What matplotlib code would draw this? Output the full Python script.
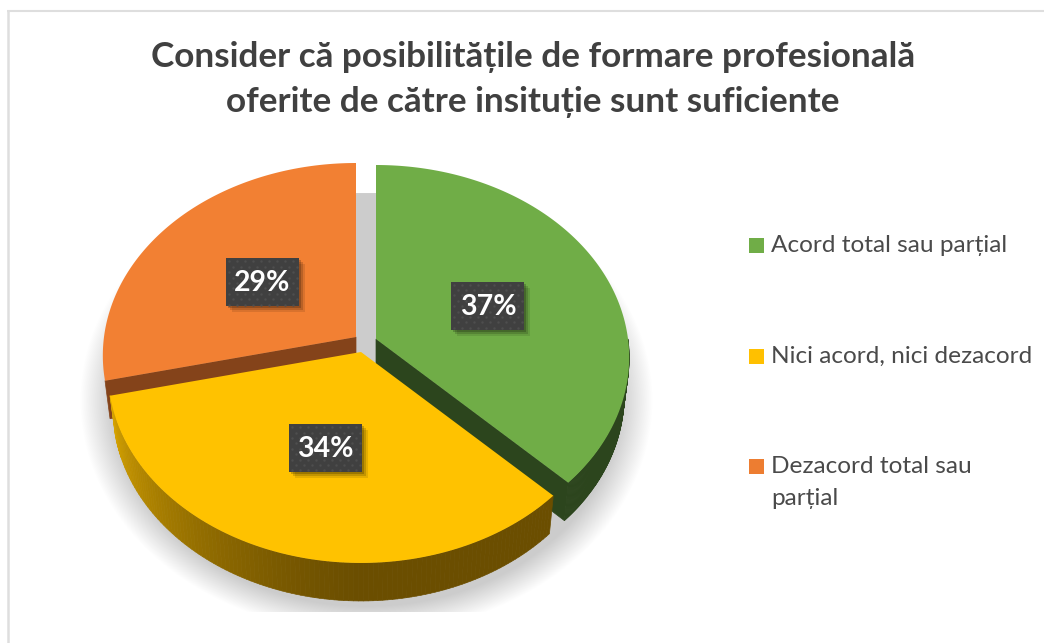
import numpy as np
import matplotlib
matplotlib.use('Agg')
import matplotlib.pyplot as plt
from matplotlib.collections import PolyCollection
from matplotlib.patches import Rectangle

plt.rcParams['font.family'] = ['Lato', 'Noto Sans', 'DejaVu Sans']

# date
categories = ['Acord total sau parțial', 'Nici acord, nici dezacord', 'Dezacord total sau\nparțial']
values = [37.4, 34.0, 28.6]
colors = ['#70AD47', '#FFC000', '#ED7D31']
top_colors = ['#70AD47', '#FFC200', '#F28033']
title = 'Consider că posibilitățile de formare profesională\noferite de către insituție sunt suficiente'

W, H = 1044, 643
RX, RY, PERSP = 252, 190.7, 0.096
DEPTH = 38

# unghiuri din valori (de la ora 12, in sensul acelor de ceas)
edges = np.concatenate([[0], np.cumsum(values)]) / np.sum(values) * 2 * np.pi
# varful fiecarei felii (explodate) in pixeli
apex = [(376, 339), (361, 352), (356, 337)]


def project(center, ang, r=1.0, depth=0):
    # perspectiva simpla pentru discul placintei
    x, y = r * np.sin(ang), r * np.cos(ang)
    s = 1 / (1 + PERSP * y)
    k = 1 - 0.02 * depth / DEPTH
    return center[0] + RX * k * x * s, center[1] + depth - RY * y * s


def sector(center, a0, a1, depth=0):
    t = np.linspace(a0, a1, 200)
    xs, ys = project(center, t, depth=depth)
    return np.column_stack([np.r_[center[0], xs], np.r_[center[1] + depth, ys]])


def wall_strips(center, a0, a1, n=120):
    t = np.linspace(a0, a1, n + 1)
    xt, yt = project(center, t)
    xb, yb = project(center, t, depth=DEPTH)
    return [[(xt[i], yt[i]), (xt[i + 1], yt[i + 1]), (xb[i + 1], yb[i + 1]), (xb[i], yb[i])] for i in range(n)], t


def radial_wall(center, ang):
    xt, yt = project(center, ang)
    xb, yb = project(center, ang, depth=DEPTH)
    return [(center[0], center[1]), (xt, yt), (xb, yb), (center[0], center[1] + DEPTH)]


fig = plt.figure(figsize=(W / 100, H / 100), dpi=100, facecolor='white')
ax = fig.add_axes([0, 0, 1, 1])
ax.set_xlim(0, W)
ax.set_ylim(H, 0)
ax.axis('off')

# chenar (doar sus si in stanga, restul e taiat)
ax.plot([7.5, 7.5], [10, H], color='#DEDEDE', lw=1.8, solid_capstyle='butt')
ax.plot([7, W], [10.5, 10.5], color='#DEDEDE', lw=1.5, solid_capstyle='butt')

# umbra de sub placinta
yy, xx = np.mgrid[193:612, 70:670]
d = np.sqrt(((xx - 366) / 278) ** 2 + ((yy - 400) / 226) ** 2)
alpha = np.clip((1.03 - d) / 0.12, 0, 1)
shadow = np.zeros(d.shape + (4,))
shadow[..., :3] = 0.8
shadow[..., 3] = alpha
ax.imshow(shadow, extent=(70, 670, 612, 193), zorder=1, interpolation='bilinear', aspect='auto')
ax.set_xlim(0, W)
ax.set_ylim(H, 0)

# felia verde
green_wall, _ = wall_strips(apex[0], np.pi / 2, edges[1])
ax.add_collection(PolyCollection(green_wall, facecolors='#2C451D', edgecolors='#2C451D', lw=0.5, zorder=2))
ax.fill(*zip(*radial_wall(apex[0], edges[1])), color='#2C451D', lw=0.5, zorder=2)
ax.fill(*sector(apex[0], edges[0], edges[1]).T, color=top_colors[0], lw=0, zorder=3)

# felia portocalie
ax.fill(*zip(*radial_wall(apex[2], edges[2])), color='#84431A', lw=0.5, zorder=2)
ax.fill(*sector(apex[2], edges[2], edges[3]).T, color=top_colors[2], lw=0, zorder=3)

# felia galbena, perete cu degrade
yellow_wall, t = wall_strips(apex[1], edges[1], edges[2])
frac = np.clip((t[:-1] - np.pi) / (edges[2] - np.pi), 0, 1)
dark, light = np.array([0x6B, 0x4E, 0x00]) / 255, np.array([0xD8, 0xA4, 0x00]) / 255
cols = [dark + (light - dark) * f ** 1.3 for f in frac]
ax.add_collection(PolyCollection(yellow_wall, facecolors=cols, edgecolors=cols, lw=0.5, zorder=4))
ax.fill(*sector(apex[1], edges[1], edges[2]).T, color=top_colors[1], lw=0, zorder=5)

# etichete cu procente
BW, BH = 73, 48
for i, v in enumerate(values):
    mid = (edges[i] + edges[i + 1]) / 2
    cx, cy = project(apex[i], mid, r=0.49)
    cy += 2
    for k, a in zip([7, 5, 3], [0.10, 0.15, 0.2]):
        ax.add_patch(Rectangle((cx - BW / 2 + k - 1, cy - BH / 2 + k - 1), BW, BH, color='black', alpha=a, lw=0, zorder=6))
    ax.add_patch(Rectangle((cx - BW / 2, cy - BH / 2), BW, BH, color='#404040', lw=0, zorder=7))
    # puncte din textura
    dx, dy = [], []
    for r_i, py in enumerate(np.arange(cy - BH / 2 + 3, cy + BH / 2, 5.4)):
        for px in np.arange(cx - BW / 2 + 3 + (r_i % 2) * 4, cx + BW / 2, 8):
            dx.append(px)
            dy.append(py)
    ax.scatter(dx, dy, s=3, color='#4E4E4E', lw=0, zorder=8)
    ax.text(cx, cy + 1, f'{v:.0f}%', color='white', fontsize=20.5, fontweight='bold', ha='center', va='center', zorder=9)

# titlu
ax.text(533, 79.5, title, color='#404040', fontsize=25.3, fontweight='bold', ha='center', va='center', linespacing=1.48, zorder=9)

# legenda
leg_y = [245.5, 356, 466.5]
for c, name, y in zip(colors, categories, leg_y):
    ax.add_patch(Rectangle((749, y - 7.5), 15, 15, color=c, lw=0, zorder=9))
    first = name.split('\n')[0]
    ax.text(771, y, first, color='#4A4A4A', fontsize=17.6, va='center', ha='left', zorder=9)
    if '\n' in name:
        ax.text(771, y + 32, name.split('\n')[1], color='#4A4A4A', fontsize=17.6, va='center', ha='left', zorder=9)

fig.savefig('out.png', dpi=100, facecolor='white')
